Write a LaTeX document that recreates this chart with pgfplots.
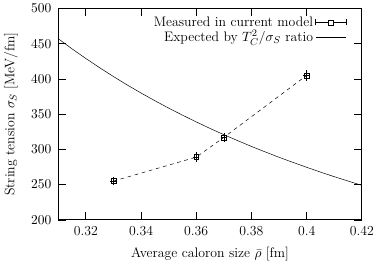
\documentclass[border=0pt]{standalone}
\usepackage{pgfplots}
\pgfplotsset{compat=1.18}
\begin{document}
\begin{tikzpicture}[font=\fontsize{11.2}{13.5}\selectfont]
\begin{axis}[
  name=main,
  scale only axis, width=247pt, height=172pt,
  xmin=0.31, xmax=0.42, ymin=200, ymax=500,
  xtick={0.32,0.34,0.36,0.38,0.4,0.42},
  xticklabels={0.32,0.34,0.36,0.38,0.4,0.42},
  ytick={200,250,300,350,400,450,500},
  tick align=inside, major tick length=6pt,
  xtick pos=both, ytick pos=both,
  axis line style={line width=0.8pt},
  tick style={line width=0.6pt, black},
  xticklabel style={yshift=-2pt},
  yticklabel style={xshift=-2pt},
  xlabel={Average caloron size $\bar\rho$ [fm]},
  ylabel={String tension $\sigma_S$ [MeV/fm]},
  xlabel style={yshift=-2pt},
  ylabel style={yshift=4pt},
]
\addplot[black, dashed, mark=square, mark size=2pt, mark options={solid},
  error bars/.cd, y dir=both, y explicit, x dir=both, x explicit,
  error mark options={mark size=1.5pt, solid}]
  coordinates {
  (0.33,255) +- (0.0005,3)
  (0.36,289) +- (0.0005,4)
  (0.37,317) +- (0.0005,4)
  (0.40,405) +- (0.0005,5)
  };
\addplot[black, thin, mark=none] coordinates {
(0.310,457.1) (0.315,442.7) (0.320,429.0) (0.325,415.9) (0.330,403.4)
(0.335,391.4) (0.340,380.0) (0.345,369.1) (0.350,358.6) (0.355,348.6)
(0.360,339.0) (0.365,329.7) (0.370,320.9) (0.375,312.4) (0.380,304.2)
(0.385,296.4) (0.390,288.8) (0.395,281.6) (0.400,274.6) (0.405,267.8)
(0.410,261.3) (0.415,255.1) (0.420,249.0)
};
\end{axis}
\begin{axis}[
  scale only axis, width=247pt, height=172pt,
  xmin=0.31, xmax=0.42, ymin=200, ymax=500, hide axis,
  legend style={draw=none, fill=none, at={(0.955,0.98)}, anchor=north east, font=\fontsize{11.2}{13.5}\selectfont, row sep=-2pt, inner sep=1pt},
  legend cell align=right, legend plot pos=right,
]
\addlegendimage{legend image code/.code={
  \draw[black] (0pt,0pt) -- (25pt,0pt);
  \draw[black] (0pt,-2.5pt) -- (0pt,2.5pt);
  \draw[black] (25pt,-2.5pt) -- (25pt,2.5pt);
  \draw[black, fill=white] (12.5pt,0pt) ++(-2pt,-2pt) rectangle ++(4pt,4pt);
}}
\addlegendentry{Measured in current model}
\addlegendimage{legend image code/.code={
  \draw[black, thin] (0pt,0pt) -- (25pt,0pt);
}}
\addlegendentry{Expected by $T_C^2/\sigma_S$ ratio}
\end{axis}
\path (main.outer north east) ++(9pt,0pt);
\end{tikzpicture}
\end{document}
